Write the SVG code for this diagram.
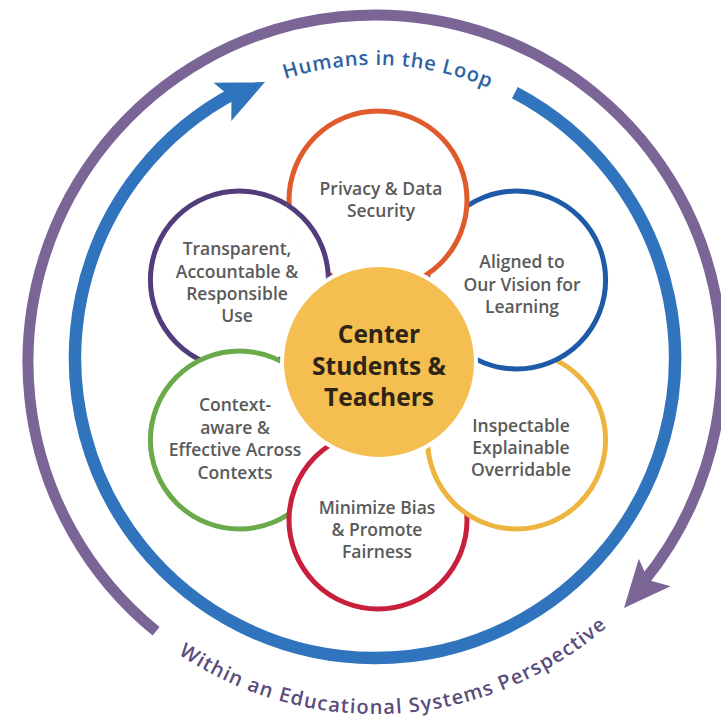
<svg xmlns="http://www.w3.org/2000/svg" xmlns:xlink="http://www.w3.org/1999/xlink" width="721" height="721" viewBox="0 0 721 721">
  <style>
    .ring{fill:none;stroke-linecap:butt}
    .petal{fill:#fff;stroke-width:5}
    .label{font-family:"Open Sans","DejaVu Sans",sans-serif;font-weight:600;font-size:17.5px;fill:#5a5a5a;text-anchor:middle}
    .hub-label{font-family:"Open Sans","DejaVu Sans",sans-serif;font-weight:700;font-size:24.5px;fill:#2e2416;text-anchor:middle}
    .arc-label{font-family:"Open Sans","DejaVu Sans",sans-serif;font-weight:600;font-size:20px}
  </style>
  <defs>
    <!-- barbed arrowhead, tip at origin pointing along +x -->
    <path id="arrowhead" d="M0,0 L-47,-21 L-37,0 L-47,21 Z"/>
    <!-- arc used as baseline for the top caption -->
    <path id="top-arc" d="M197,125.2 A293,293 0 0 1 573.3,142.3"/>
    <!-- arc used as baseline for the bottom caption -->
    <path id="bottom-arc" d="M142.7,626.5 A352,352 0 0 0 639.5,594.3"/>
    <circle id="purple-disk" cx="239.4" cy="280" r="89"/>
    <clipPath id="orange-clip">
      <circle cx="378" cy="200" r="92"/>
    </clipPath>
  </defs>

  <rect width="721" height="721" fill="#fff"/>

  <!-- outer loops -->
  <g id="connectors">
    <g id="educational-systems-loop">
      <path class="ring" d="M156.1,631.3 A347,347 0 1 1 643.5,581.8" stroke="#7b6597" stroke-width="11"/>
      <use xlink:href="#arrowhead" href="#arrowhead" transform="translate(624,608) rotate(130.8)" fill="#7b6597"/>
    </g>
    <g id="humans-loop">
      <path class="ring" d="M514.9,92.6 A300,300 0 1 1 236.5,91.9" stroke="#2f74bc" stroke-width="12.5"/>
      <use xlink:href="#arrowhead" href="#arrowhead" transform="translate(265,82) rotate(335)" fill="#2f74bc"/>
    </g>
  </g>

  <g id="captions">
    <text class="arc-label" fill="#2d62a3" letter-spacing="0.8"><textPath xlink:href="#top-arc" href="#top-arc" startOffset="50%" text-anchor="middle">Humans in the Loop</textPath></text>
    <text class="arc-label" fill="#5b4c7b" letter-spacing="1.2"><textPath xlink:href="#bottom-arc" href="#bottom-arc" startOffset="50%" text-anchor="middle">Within an Educational Systems Perspective</textPath></text>
  </g>

  <!-- petals: each one overlaps its clockwise neighbour -->
  <g id="node-transparent">
    <use xlink:href="#purple-disk" href="#purple-disk" class="petal" stroke="#513d7c"/>
    <text class="label" x="237" y="255">Transparent,</text>
    <text class="label" x="237" y="278">Accountable &amp;</text>
    <text class="label" x="237" y="300">Responsible</text>
    <text class="label" x="237" y="322">Use</text>
  </g>
  <g id="node-context">
    <circle class="petal" cx="239.4" cy="440" r="89" stroke="#6baa4b"/>
    <text class="label" x="235" y="411">Context-</text>
    <text class="label" x="235" y="434">aware &amp;</text>
    <text class="label" x="235" y="456">Effective Across</text>
    <text class="label" x="235" y="479">Contexts</text>
  </g>
  <g id="node-bias">
    <circle class="petal" cx="378" cy="520" r="89" stroke="#c8203c"/>
    <text class="label" x="377" y="514">Minimize Bias</text>
    <text class="label" x="377" y="536">&amp; Promote</text>
    <text class="label" x="377" y="558">Fairness</text>
  </g>
  <g id="node-inspectable">
    <circle class="petal" cx="516.6" cy="440" r="89" stroke="#edb440"/>
    <text class="label" x="521" y="432">Inspectable</text>
    <text class="label" x="521" y="454">Explainable</text>
    <text class="label" x="521" y="476">Overridable</text>
  </g>
  <g id="node-aligned">
    <circle class="petal" cx="516.6" cy="280" r="89" stroke="#1e5aa8"/>
    <text class="label" x="522" y="268">Aligned to</text>
    <text class="label" x="522" y="291">Our Vision for</text>
    <text class="label" x="522" y="313">Learning</text>
  </g>
  <g id="node-privacy">
    <circle class="petal" cx="378" cy="200" r="89" stroke="#e05a2c"/>
    <text class="label" x="381" y="195">Privacy &amp; Data</text>
    <text class="label" x="381" y="217">Security</text>
  </g>
  <!-- purple petal edge passes over the orange one -->
  <use xlink:href="#purple-disk" href="#purple-disk" class="petal" stroke="#513d7c" clip-path="url(#orange-clip)"/>

  <g id="node-center">
    <circle cx="379" cy="362" r="97" fill="#f4be50" stroke="#fff" stroke-width="4"/>
    <text class="hub-label" x="379" y="343">Center</text>
    <text class="hub-label" x="379" y="375">Students &amp;</text>
    <text class="hub-label" x="379" y="406">Teachers</text>
  </g>
</svg>
